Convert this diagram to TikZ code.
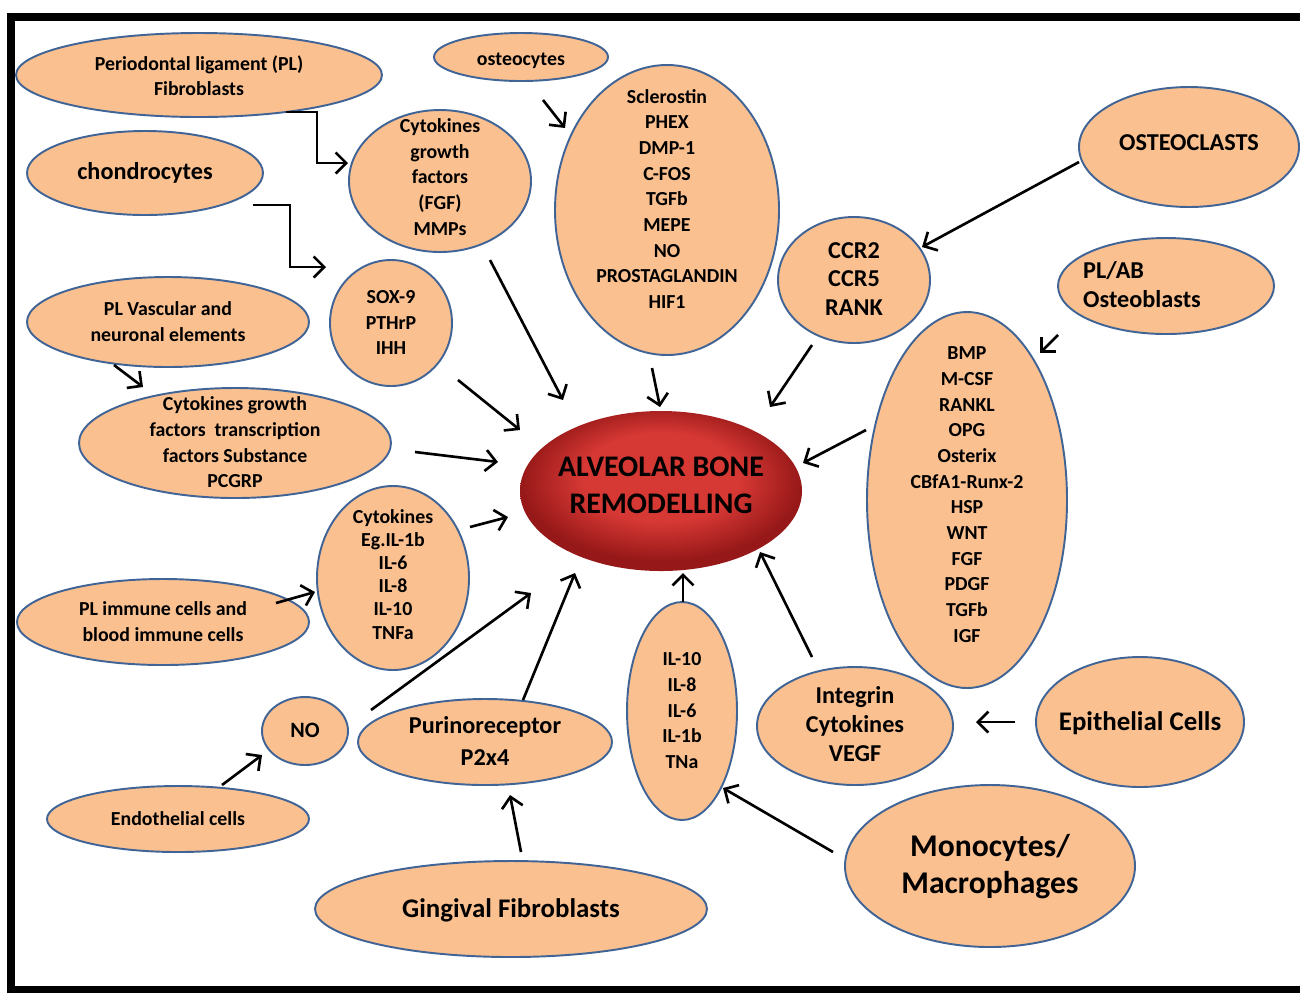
\documentclass[tikz,border=0pt]{standalone}
\usepackage{fontspec}
\setmainfont{Carlito}
\usetikzlibrary{shapes.geometric}
\usetikzlibrary{arrows.meta}

\definecolor{cellfill}{RGB}{250,192,144}
\definecolor{cellline}{RGB}{65,100,150}
\definecolor{bonein}{RGB}{214,56,52}
\definecolor{boneout}{RGB}{150,24,24}
\pgfdeclareradialshading{bone}{\pgfpoint{0bp}{6bp}}{color(0bp)=(bonein); color(14bp)=(bonein); color(25bp)=(boneout); color(50bp)=(boneout)}

% text of a cell, kept out of the ellipse size
\newcommand{\stack}[2][0pt]{\makebox[0pt]{\raisebox{\dimexpr#1-0.3em\relax}[0pt][0pt]{\begin{tabular}{@{}c@{}}#2\end{tabular}}}}

\tikzset{
  cell/.style 2 args={ellipse, draw=cellline, fill=cellfill, line width=1.1pt, inner sep=0pt, minimum width=#1*0.02cm, minimum height=#2*0.02cm},
  smalltext/.style={font=\fontsize{11.3}{14.6}\selectfont\bfseries},
  midtext/.style={font=\fontsize{13.8}{16.2}\selectfont\bfseries},
  bigtext/.style={font=\fontsize{15.3}{18}\selectfont\bfseries},
  hugetext/.style={font=\fontsize{18}{21}\selectfont\bfseries},
  arr/.style={-{Straight Barb[length=6pt,width=12pt]}, line width=1.5pt},
}

\begin{document}
\begin{tikzpicture}[x=0.02cm,y=-0.02cm]
\useasboundingbox (0,0) rectangle (1300,992);
\draw[line width=4.5pt] (1300,17) -- (11,17) -- (11,990) -- (1300,990);

% cells
\node[cell={366}{84}, smalltext] (plfib) at (199,75) {\stack[-1pt]{Periodontal ligament (PL)\\Fibroblasts}};
\node[cell={174}{48}, smalltext] (ostcy) at (521,57) {\stack[-1.5pt]{osteocytes}};
\node[cell={236}{84}, midtext] (chondro) at (145,173) {\stack{chondrocytes}};
\node[cell={182}{142}, smalltext] (cytgf) at (440,181) {\stack[2pt]{Cytokines\\growth\\factors\\(FGF)\\MMPs}};
\node[cell={224}{290}, smalltext] (scl) at (667,210) {\stack[6pt]{Sclerostin\\PHEX\\DMP-1\\C-FOS\\TGFb\\MEPE\\NO\\PROSTAGLANDIN\\HIF1}};
\node[cell={220}{120}, midtext] (ocl) at (1189,147) {\stack[2pt]{OSTEOCLASTS}};
\node[cell={152}{126}, midtext] (ccr) at (854,280) {\stack{CCR2\\CCR5\\RANK}};
\node[cell={216}{96}, font=\fontsize{13.8}{17}\selectfont\bfseries] (plab) at (1166,286) {\makebox[0pt]{\hspace{-0.96cm}\stack{PL/AB\hfill\mbox{}\\Osteoblasts}}};
\node[cell={200}{376}, smalltext] (bmp) at (967,500) {\stack[3pt]{BMP\\M-CSF\\RANKL\\OPG\\Osterix\\CBfA1-Runx-2\\HSP\\WNT\\FGF\\PDGF\\TGFb\\IGF}};
\node[cell={282}{90}, smalltext] (plvasc) at (168,322) {\stack{PL Vascular and\\neuronal elements}};
\node[cell={122}{126}, smalltext] (sox) at (391,323) {\stack{SOX-9\\PTHrP\\IHH}};
\node[cell={312}{110}, smalltext] (cytts) at (235,443) {\stack{Cytokines growth\\factors~ transcription\\factors Substance\\PCGRP}};
\node[shade, shading=bone, ellipse, inner sep=0pt, minimum width=282*0.02cm, minimum height=160*0.02cm, font=\fontsize{17}{21}\selectfont\bfseries] (alv) at (661,491) {\stack[2.5pt]{ALVEOLAR BONE\\REMODELLING}};
\node[cell={152}{184}, font=\fontsize{11.3}{13.2}\selectfont\bfseries] (cyteg) at (393,578) {\stack[1.5pt]{Cytokines\\Eg.IL-1b\\IL-6\\IL-8\\IL-10\\TNFa}};
\node[cell={292}{86}, smalltext] (plimm) at (163,622) {\stack{PL immune cells and\\blood immune cells}};
\node[cell={86}{68}, font=\fontsize{12.5}{15}\selectfont\bfseries] (no) at (305,731) {\stack{NO}};
\node[cell={254}{86}, font=\fontsize{13.8}{18.1}\selectfont\bfseries] (purino) at (485,742) {\stack{Purinoreceptor\\P2x4}};
\node[cell={110}{218}, smalltext] (il) at (682,711) {\stack{IL-10\\IL-8\\IL-6\\IL-1b\\TNa}};
\node[cell={196}{118}, font=\fontsize{13.8}{16.4}\selectfont\bfseries] (integ) at (855,726) {\stack{Integrin\\Cytokines\\VEGF}};
\node[cell={208}{130}, bigtext] (epi) at (1140,722) {\stack{Epithelial Cells}};
\node[cell={262}{66}, smalltext] (endo) at (178,819) {\stack{Endothelial cells}};
\node[cell={392}{96}, bigtext] (ging) at (511,909) {\stack{Gingival Fibroblasts}};
\node[cell={290}{162}, hugetext] (mono) at (990,866) {\stack{Monocytes/\\Macrophages}};

% arrows
\draw[arr] ([shift={(87,37)}]plfib.center) -| ([shift={(-123,-18)}]cytgf.center) -- ([shift={(-92,-18)}]cytgf.center);
\draw[arr] ([shift={(108,32)}]chondro.center) -| ([shift={(-101,-56)}]sox.center) -- ([shift={(-65,-56)}]sox.center);
\draw[arr] ([shift={(22,43)}]ostcy.center) -- ([shift={(-102,-82)}]scl.center);
\draw[arr] ([shift={(50,79)}]cytgf.center) -- ([shift={(-98,-91)}]alv.center);
\draw[arr] ([shift={(-15,158)}]scl.center) -- ([shift={(-1,-84)}]alv.center);
\draw[arr] ([shift={(-110,15)}]ocl.center) -- ([shift={(68,-33)}]ccr.center);
\draw[arr] ([shift={(-42,65)}]ccr.center) -- ([shift={(109,-84)}]alv.center);
\draw[arr] ([shift={(-108,49)}]plab.center) -- ([shift={(73,-147)}]bmp.center);
\draw[arr] ([shift={(-101,-70)}]bmp.center) -- ([shift={(142,-28)}]alv.center);
\draw[arr] ([shift={(-54,43)}]plvasc.center) -- ([shift={(-92,-56)}]cytts.center);
\draw[arr] ([shift={(67,57)}]sox.center) -- ([shift={(-141,-61)}]alv.center);
\draw[arr] ([shift={(180,9)}]cytts.center) -- ([shift={(-163,-29)}]alv.center);
\draw[arr] ([shift={(77,-51)}]cyteg.center) -- ([shift={(-153,26)}]alv.center);
\draw[arr] ([shift={(113,-19)}]plimm.center) -- ([shift={(-78,14)}]cyteg.center);
\draw[arr] ([shift={(66,-21)}]no.center) -- ([shift={(-130,102)}]alv.center);
\draw[arr] ([shift={(38,-42)}]purino.center) -- ([shift={(-86,82)}]alv.center);
\draw[arr] ([shift={(44,-34)}]endo.center) -- ([shift={(-43,24)}]no.center);
\draw[arr] ([shift={(10,-57)}]ging.center) -- ([shift={(25,53)}]purino.center);
\draw[arr] ([shift={(1,-109)}]il.center) -- ([shift={(22,82)}]alv.center);
\draw[arr] ([shift={(-43,-69)}]integ.center) -- ([shift={(99,61)}]alv.center);
\draw[arr] ([shift={(-125,0)}]epi.center) -- ([shift={(121,-4)}]integ.center);
\draw[arr] ([shift={(-157,-14)}]mono.center) -- ([shift={(41,77)}]il.center);
\end{tikzpicture}
\end{document}
